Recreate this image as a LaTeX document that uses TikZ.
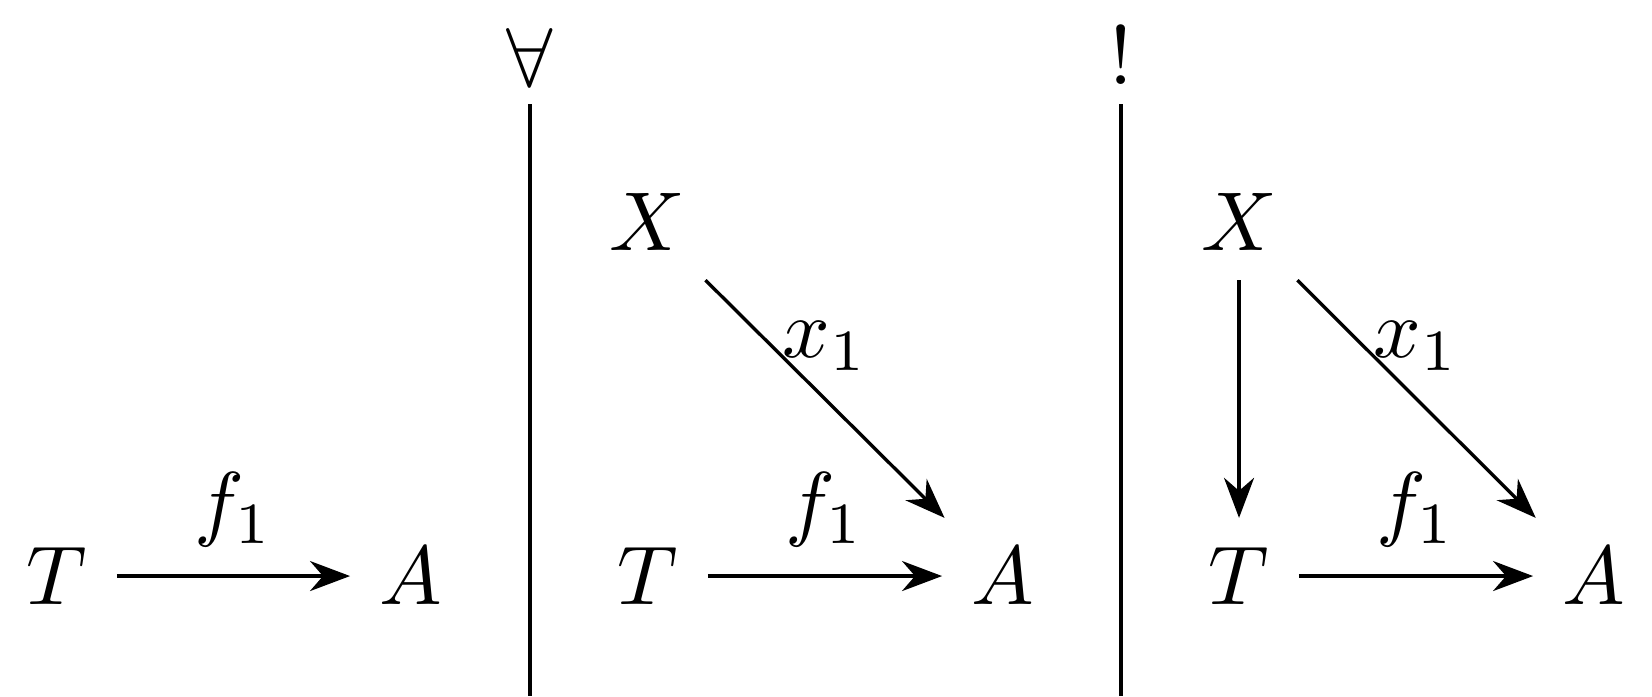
\documentclass[tikz,border=0pt]{standalone}
\usetikzlibrary{arrows.meta}
\begin{document}
\begin{tikzpicture}[x=0.11976pt,y=-0.11976pt,line width=0.4pt,
  obj/.style={inner sep=3.55pt,outer sep=0pt},
  lbl/.style={inner sep=3.47pt,outer sep=0pt,anchor=south},
  morph/.style={-{Stealth}},
  divider/.style={line width=0.4pt}]
\useasboundingbox (0,0) rectangle (1652,696);
% quantifier marks and dividers
\node[anchor=base,inner sep=0pt] (q1) at (530,86) {$\forall$};
\node[anchor=base,inner sep=0pt] (q2) at (1121,84) {!};
\coordinate (d1t) at (530,104);
\coordinate (d1b) at (530,696);
\coordinate (d2t) at (1121,104);
\coordinate (d2b) at (1121,696);
\draw[divider] (d1t) -- (d1b);
\draw[divider] (d2t) -- (d2b);
% first diagram
\node[obj] (T1) at (57,576) {$T$};
\node[obj] (A1) at (411,576) {$A$};
\draw[morph] (T1) -- node[lbl] {$f_1$} (A1);
% second diagram
\node[obj] (X2) at (647,222) {$X$};
\node[obj] (T2) at (648,576) {$T$};
\node[obj] (A2) at (1003,576) {$A$};
\draw[morph] (T2) -- node[lbl] {$f_1$} (A2);
\draw[morph] (X2) -- node[lbl] {$x_1$} (A2);
% third diagram
\node[obj] (X3) at (1239,222) {$X$};
\node[obj] (T3) at (1239,576) {$T$};
\node[obj] (A3) at (1594,576) {$A$};
\draw[morph] (T3) -- node[lbl] {$f_1$} (A3);
\draw[morph] (X3) -- node[lbl] {$x_1$} (A3);
\draw[morph] (X3) -- (T3);
\end{tikzpicture}
\end{document}
